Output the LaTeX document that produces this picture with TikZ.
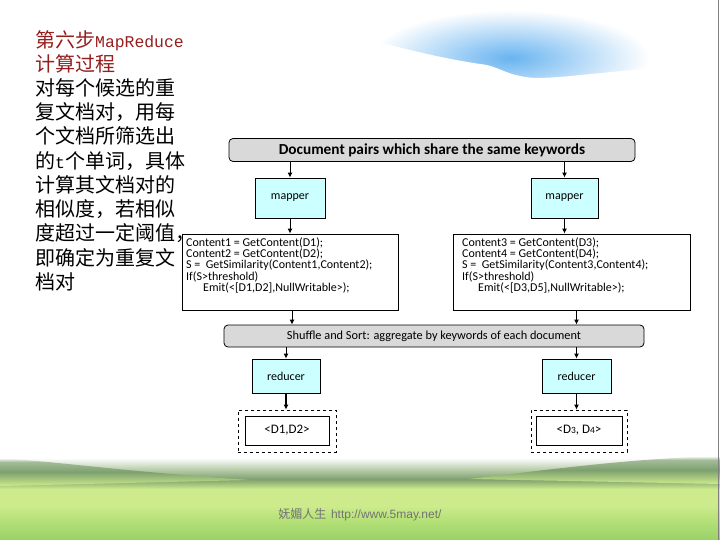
\documentclass[tikz,border=0pt]{standalone}
\usepackage{fontspec}
\setmainfont{Carlito}
\newfontfamily\cjk{Noto Sans CJK SC}
\newfontfamily\latmono{Liberation Mono}
\newfontfamily\footsans{Liberation Sans}
\usetikzlibrary{arrows.meta}
\definecolor{titlered}{RGB}{150,30,30}
\definecolor{boxgray}{RGB}{217,217,217}
\definecolor{mapcyan}{RGB}{204,255,255}
\definecolor{skyblue}{RGB}{105,180,240}
\definecolor{hazegreen}{RGB}{185,205,170}
\definecolor{hillgreen}{RGB}{125,160,110}
\definecolor{grasslight}{RGB}{205,235,140}
\definecolor{grassmid}{RGB}{180,225,120}
\definecolor{grassgreen}{RGB}{155,208,105}
\definecolor{footgray}{RGB}{115,115,115}
\pgfdeclareverticalshading{grassfield}{100bp}{%
  color(0bp)=(grassgreen); color(25bp)=(grassgreen); color(37bp)=(grassmid);
  color(46bp)=(grasslight); color(56bp)=(grasslight); color(62bp)=(hillgreen);
  color(68bp)=(hazegreen); color(75bp)=(white); color(100bp)=(white)}
\pgfdeclareverticalshading{hillshade}{100bp}{%
  color(0bp)=(grasslight); color(25bp)=(grasslight); color(50bp)=(hillgreen);
  color(68bp)=(hillgreen!70!white); color(75bp)=(white); color(100bp)=(white)}
\tikzset{
  lefttext/.style={anchor=base west, inner sep=0pt, font=\cjk\fontsize{20}{24}\selectfont},
  banner/.style={draw=black, line width=0.8pt, fill=boxgray, rounded corners=4pt, inner sep=0pt},
  cyanbox/.style={draw=black, line width=0.8pt, fill=mapcyan, inner sep=0pt, font=\fontsize{12}{13}\selectfont},
  codebox/.style={draw=black, line width=0.8pt, fill=white, inner sep=0pt},
  codetext/.style={anchor=north west, inner sep=0pt, align=left, font=\fontsize{12}{11.2}\selectfont},
  dashbox/.style={draw=black, line width=0.8pt, dashed, inner sep=0pt},
  outbox/.style={draw=black, line width=0.8pt, fill=white, inner sep=0pt, font=\fontsize{13}{14}\selectfont},
  flow/.style={draw=black, line width=1pt, -{Latex[length=5pt,width=5pt]}},
  flowthick/.style={draw=black, line width=1.4pt, -{Latex[length=5pt,width=5pt]}}
}
\begin{document}
\begin{tikzpicture}[x=1pt,y=-1pt]
\useasboundingbox (0,0) rectangle (720,540);
% background
\fill[white] (0,0) rectangle (720,540);
\shade[inner color=skyblue, outer color=white] (510,58) ellipse [x radius=140, y radius=48];
\fill[white] (180,130) -- (180,70) .. controls (240,30) and (320,28) .. (370,40)
  .. controls (410,50) and (440,58) .. (480,64) .. controls (500,66) and (505,76) .. (535,78)
  .. controls (565,78) and (600,72) .. (660,68) -- (660,130) -- cycle;
% grass
\shade[shading=grassfield] (0,458) rectangle (720,540);
\shade[shading=hillshade] (0,458) .. controls (60,462) and (130,472) .. (250,480) -- (0,486) -- cycle;
\shade[shading=hillshade] (720,456) .. controls (640,458) and (560,468) .. (470,479) -- (720,484) -- cycle;
\draw[gray, line width=1.2pt] (718.6,0) -- (718.6,540);
% left text
\node[lefttext, text=titlered] (l1) at (35,47.2) {第六步{\latmono\fontsize{16.4}{20}\selectfont MapReduce}};
\node[lefttext, text=titlered] (l2) at (35,71.4) {计算过程};
\node[lefttext] (l3) at (35,95.6) {对每个候选的重};
\node[lefttext] (l4) at (35,119.8) {复文档对，用每};
\node[lefttext] (l5) at (35,144.0) {个文档所筛选出};
\node[lefttext] (l6) at (35,168.2) {的{\latmono\fontsize{16.4}{20}\selectfont t}个单词，具体};
\node[lefttext] (l7) at (35,192.4) {计算其文档对的};
\node[lefttext] (l8) at (35,216.6) {相似度，若相似};
\node[lefttext] (l9) at (35,240.8) {度超过一定阈值，};
\node[lefttext] (l10) at (35,265.0) {即确定为重复文};
\node[lefttext] (l11) at (35,289.2) {档对};
% diagram
\node[banner, minimum width=406pt, minimum height=23pt, font=\bfseries\fontsize{15.3}{16}\selectfont] (top) at (432,150) {Document pairs which share the same keywords};
\node[cyanbox, minimum width=70pt, minimum height=40pt] (mapL) at (290,198) {mapper};
\node[cyanbox, minimum width=67pt, minimum height=40pt] (mapR) at (564.5,198) {mapper};
\node[codebox, minimum width=216pt, minimum height=76pt] (codeL) at (290,272) {};
\node[codebox, minimum width=237pt, minimum height=76pt] (codeR) at (571.5,272) {};
\node[codetext] (ctL) at (186,237.5) {Content1 = GetContent(D1);\\Content2 = GetContent(D2);\\S = \ GetSimilarity(Content1,Content2);\\If(S>threshold)\\\hspace*{17pt}Emit(<[D1,D2],NullWritable>);};
\node[codetext] (ctR) at (462,237.5) {Content3 = GetContent(D3);\\Content4 = GetContent(D4);\\S = \ GetSimilarity(Content3,Content4);\\If(S>threshold)\\\hspace*{16pt}Emit(<[D3,D5],NullWritable>);};
\node[banner, minimum width=420pt, minimum height=22pt, font=\fontsize{12.3}{13}\selectfont] (shuf) at (434,336) {Shuffle and Sort: aggregate by keywords of each document};
\node[cyanbox, minimum width=68pt, minimum height=34pt] (redL) at (286,376) {reducer};
\node[cyanbox, minimum width=69pt, minimum height=34pt] (redR) at (576.5,376) {reducer};
\node[dashbox, minimum width=98pt, minimum height=42pt] (dL) at (287,431) {};
\node[outbox, minimum width=84pt, minimum height=29pt] (oL) at (287,430.5) {<D1,D2>};
\node[dashbox, minimum width=96pt, minimum height=42pt] (dR) at (579,431) {};
\node[outbox, minimum width=86pt, minimum height=29pt] (oR) at (579,430.5) {<D{\fontsize{9.5}{10}\selectfont 3}, D{\fontsize{9.5}{10}\selectfont 4}>};
% arrows
\draw[flow] (top.south -| mapL) -- (mapL.north);
\draw[flowthick] (top.south -| mapR) -- (mapR.north);
\draw[flow] (mapL.south) -- (codeL.north -| mapL);
\draw[flowthick] (mapR.south) -- (codeR.north -| mapR);
\draw[flow] ([xshift=2pt]codeL.south) -- ([xshift=2pt]shuf.north -| codeL);
\draw[flowthick] (codeR.south -| redR) -- (shuf.north -| redR);
\draw[flow] (shuf.south -| redL) -- (redL.north);
\draw[flowthick] (shuf.south -| redR) -- (redR.north);
\draw[flowthick] (redL.south) -- (dL.north -| redL);
\draw[flowthick] (redR.south) -- (dR.north -| redR);
% footer
\node[inner sep=0pt, text=footgray] (foot) at (360,515) {{\cjk\fontsize{12}{13}\selectfont 妩媚人生}\ \ {\footsans\fontsize{12}{13}\selectfont http://www.5may.net/}};
\end{tikzpicture}
\end{document}
